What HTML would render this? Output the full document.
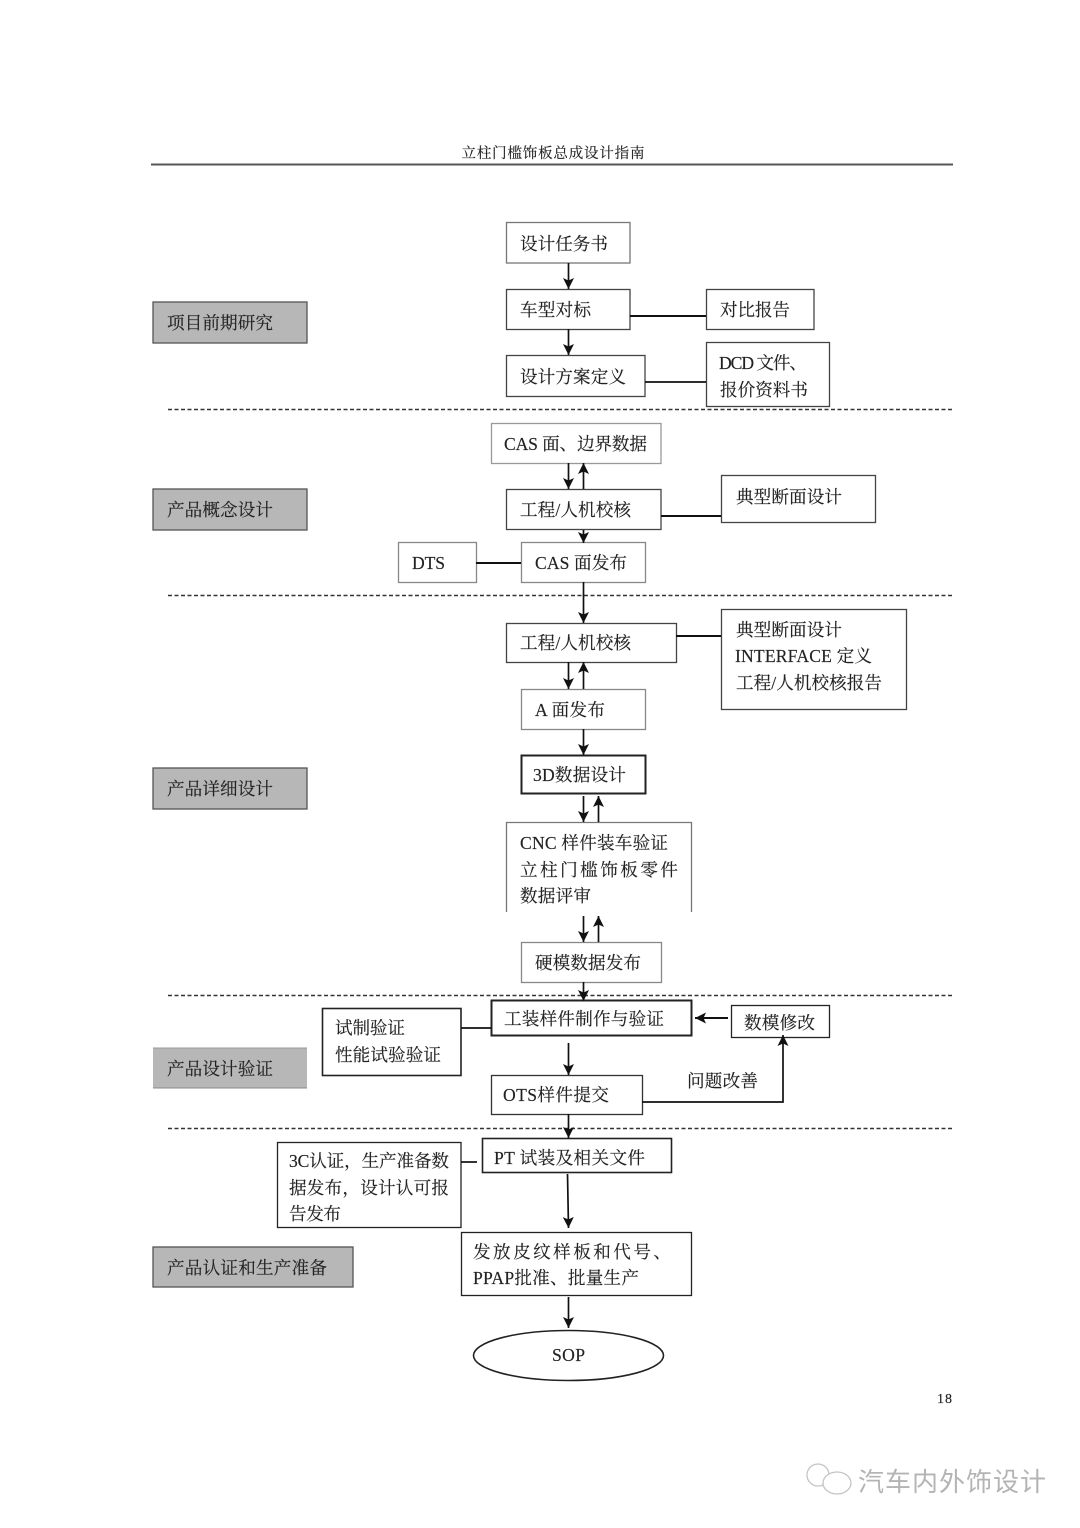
<!DOCTYPE html>
<html lang="zh"><head><meta charset="utf-8"><style>
html,body{margin:0;padding:0;background:#fff}
svg{display:block;filter:blur(.35px)}
text{font-family:"Liberation Serif","Noto Serif CJK SC",serif;font-size:17.6px;fill:#222;stroke:#222;stroke-width:.15}
.b{fill:#fff;stroke:#444;stroke-width:1.3}
.g{fill:#b7b7b7;stroke:#555;stroke-width:1.3}
.l{stroke:#111;stroke-width:1.7;fill:none}
.d{stroke:#333;stroke-width:1.5;stroke-dasharray:4 2.5;fill:none}
</style></head><body>
<svg xmlns="http://www.w3.org/2000/svg" width="1080" height="1528" viewBox="0 0 1080 1528">
<defs><marker id="a" markerUnits="userSpaceOnUse" markerWidth="12" markerHeight="12" refX="11" refY="5.500" orient="auto"><path d="M0 0L11 5.500L0 11L2.500 5.500Z" fill="#111"/></marker></defs>
<rect width="1080" height="1528" fill="#fff"/>
<text x="553" y="158" text-anchor="middle" style="font-size:14.5px" textLength="183">立柱门槛饰板总成设计指南</text>
<path d="M151 164.500H953" stroke="#555" stroke-width="2"/>
<path class="d" d="M168 409.500H952M168 595.500H952M168 995.500H952M168 1128.500H952"/>

<rect class="g" x="153" y="302" width="154" height="41"/>
<rect class="g" x="153" y="489" width="154" height="41"/>
<rect class="g" x="153" y="768" width="154" height="41"/>
<rect class="g" x="153" y="1048" width="154" height="40" style="stroke:none"/>
<path d="M153 1048H307" stroke="#999" stroke-width="1"/><path d="M153 1088H307" stroke="#888" stroke-width="1"/>
<rect class="g" x="153" y="1247" width="200" height="40"/>
<text x="167" y="329" textLength="106">项目前期研究</text>
<text x="167" y="516" textLength="106">产品概念设计</text>
<text x="167" y="795" textLength="106">产品详细设计</text>
<text x="167" y="1075" textLength="106">产品设计验证</text>
<text x="167" y="1274" textLength="160">产品认证和生产准备</text>

<!-- boxes -->
<rect class="b" x="506.500" y="222.500" width="123.500" height="40.500" style="stroke:#777"/>
<rect class="b" x="506.500" y="289.500" width="123.500" height="40"/>
<rect class="b" x="706.500" y="289.500" width="107.500" height="40"/>
<rect class="b" x="506.500" y="355.500" width="138.500" height="41"/>
<rect class="b" x="706.500" y="342.500" width="123" height="64"/>
<rect class="b" x="491.500" y="423.500" width="169.500" height="40" style="stroke:#999"/>
<rect class="b" x="506.500" y="489.500" width="154.500" height="40"/>
<rect class="b" x="721.500" y="475.500" width="154" height="47"/>
<rect class="b" x="398.500" y="542.500" width="78" height="40" style="stroke:#888"/>
<rect class="b" x="521.500" y="542.500" width="124" height="40" style="stroke:#888"/>
<rect class="b" x="506.500" y="623.500" width="170" height="39"/>
<rect class="b" x="721.500" y="609.500" width="185" height="100"/>
<rect class="b" x="521.500" y="689.500" width="124" height="40" style="stroke:#888"/>
<rect class="b" x="521.500" y="755.500" width="124" height="38" style="stroke:#222;stroke-width:2"/>
<path d="M506.500 912V822.500H691.500V912" class="b" style="stroke:#777"/>
<rect class="b" x="521.500" y="942.500" width="140" height="40" style="stroke:#888"/>
<rect class="b" x="491.500" y="1000.500" width="200" height="35" style="stroke:#222;stroke-width:2"/>
<rect class="b" x="731.500" y="1005.500" width="98" height="32" style="stroke:#222"/>
<rect class="b" x="322.500" y="1008.500" width="138.500" height="67" style="stroke:#222;stroke-width:1.6"/>
<rect class="b" x="491.500" y="1075.500" width="151" height="39" style="stroke:#333"/>
<rect class="b" x="482.500" y="1138.500" width="189" height="34" style="stroke:#222;stroke-width:1.6"/>
<rect class="b" x="277.500" y="1142.500" width="183.500" height="85" style="stroke:#222"/>
<rect class="b" x="461.500" y="1232.500" width="230" height="63" style="stroke:#222"/>
<ellipse cx="568.500" cy="1355.500" rx="95" ry="25" fill="#fff" stroke="#222" stroke-width="1.6"/>

<!-- connectors -->
<g class="l">
<path marker-end="url(#a)" d="M568.500 263V289"/>
<path marker-end="url(#a)" d="M568.500 329V355"/>
<path d="M630 316H706" stroke-width="2"/>
<path d="M645 382H706"/>
<path marker-end="url(#a)" d="M568.500 463V489"/>
<path marker-end="url(#a)" d="M583.500 489V463"/>
<path d="M661 516H721" stroke-width="2"/>
<path marker-end="url(#a)" d="M583.500 530V543"/>
<path d="M476 563H521" stroke-width="2"/>
<path marker-end="url(#a)" d="M583.500 582V623"/>
<path d="M676 636H721" stroke-width="2"/>
<path marker-end="url(#a)" d="M568.500 662V689"/>
<path marker-end="url(#a)" d="M583.500 689V662"/>
<path marker-end="url(#a)" d="M583.500 729V755"/>
<path marker-end="url(#a)" d="M583.500 796V822"/>
<path marker-end="url(#a)" d="M598.500 822V796"/>
<path marker-end="url(#a)" d="M583.500 916V942"/>
<path marker-end="url(#a)" d="M598.500 942V916"/>
<path marker-end="url(#a)" d="M583.500 982V1001"/>
<path marker-end="url(#a)" d="M728 1018H695" stroke-width="2"/>
<path d="M461 1028H491"/>
<path marker-end="url(#a)" d="M568.500 1043V1075"/>
<path marker-end="url(#a)" d="M642 1102H783V1035"/>
<path marker-end="url(#a)" d="M568.500 1114V1138"/>
<path d="M461 1162H477"/>
<path marker-end="url(#a)" d="M567.500 1174L568.500 1228"/>
<path marker-end="url(#a)" d="M568.500 1297V1328"/>
</g>

<!-- text -->
<text x="520" y="250" textLength="88">设计任务书</text>
<text x="520" y="316" textLength="71">车型对标</text>
<text x="720" y="316" textLength="70">对比报告</text>
<text x="520" y="383" textLength="106">设计方案定义</text>
<text x="719" y="369" textLength="88">DCD 文件、</text>
<text x="720" y="396" textLength="88">报价资料书</text>
<text x="504" y="450" textLength="143">CAS 面、边界数据</text>
<text x="520" y="516" textLength="111">工程/人机校核</text>
<text x="736" y="503" textLength="106">典型断面设计</text>
<text x="412" y="569" textLength="33">DTS</text>
<text x="535" y="569" textLength="92">CAS 面发布</text>
<text x="520" y="649" textLength="111">工程/人机校核</text>
<text x="736" y="636" textLength="106">典型断面设计</text>
<text x="735" y="662" textLength="137">INTERFACE 定义</text>
<text x="736" y="689" textLength="146">工程/人机校核报告</text>
<text x="535" y="716" textLength="70">A 面发布</text>
<text x="533" y="781" textLength="93">3D数据设计</text>
<text x="520" y="849" textLength="148">CNC 样件装车验证</text>
<text x="520" y="876" textLength="158">立柱门槛饰板零件</text>
<text x="520" y="902" textLength="71">数据评审</text>
<text x="535" y="969" textLength="106">硬模数据发布</text>
<text x="504" y="1025" textLength="160">工装样件制作与验证</text>
<text x="744" y="1029" textLength="71">数模修改</text>
<text x="335" y="1034" textLength="70">试制验证</text>
<text x="335" y="1061" textLength="106">性能试验验证</text>
<text x="503" y="1101" textLength="106">OTS样件提交</text>
<text x="687" y="1087" textLength="71">问题改善</text>
<text x="494" y="1164" textLength="151">PT 试装及相关文件</text>
<text x="289" y="1167" textLength="160">3C认证，生产准备数</text>
<text x="289" y="1194" textLength="160">据发布，设计认可报</text>
<text x="289" y="1220" textLength="52">告发布</text>
<text x="473" y="1258" textLength="198">发放皮纹样板和代号、</text>
<text x="473" y="1284" textLength="166">PPAP批准、批量生产</text>
<text x="552" y="1361" textLength="33">SOP</text>
<text x="937" y="1403" style="font-size:14px" textLength="15">18</text>

<!-- watermark -->
<g fill="#fff" stroke="#c4c4c4" stroke-width="1.3">
<ellipse cx="818" cy="1475" rx="11" ry="11"/>
<ellipse cx="837" cy="1483" rx="14" ry="11"/>
</g>
<text x="858" y="1491" style="font-family:'Liberation Sans','Noto Sans CJK SC',sans-serif;font-size:26px;fill:#b4b4b4;stroke:none" textLength="188">汽车内外饰设计</text>
</svg>
</body></html>
